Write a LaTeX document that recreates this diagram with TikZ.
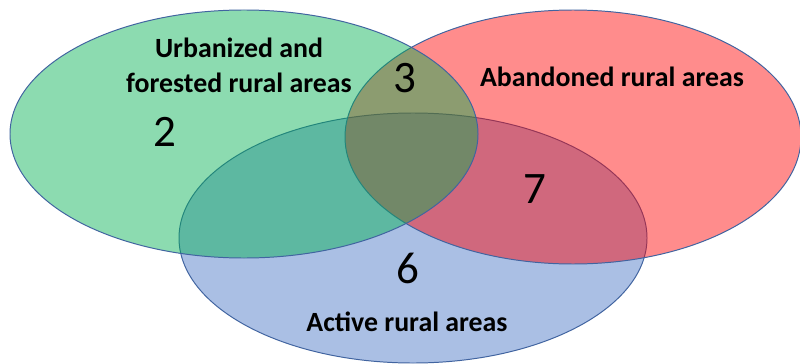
\documentclass[tikz,border=0pt]{standalone}
\usepackage{fontspec}
\setmainfont{Carlito}
\definecolor{vennblue}{RGB}{68, 114, 196}
\definecolor{vennred}{RGB}{255, 0, 0}
\definecolor{venngreen}{RGB}{0, 176, 80}
\definecolor{vennline}{RGB}{65, 100, 160}
\begin{document}
\begin{tikzpicture}[x=0.025cm, y=0.025cm]
            \useasboundingbox (0,0) rectangle (800,363);
            \fill[white] (0,0) rectangle (800,363);
            \filldraw[draw=vennline, line width=0.7pt, fill=vennblue, fill opacity=0.45] (413,125) ellipse [x radius=234, y radius=125];
            \filldraw[draw=vennline, line width=0.7pt, fill=vennred, fill opacity=0.45] (573,226) ellipse [x radius=228, y radius=127];
            \filldraw[draw=vennline, line width=0.7pt, fill=venngreen, fill opacity=0.45] (244,229) ellipse [x radius=234, y radius=124];
            \node[font=\fontsize{19.8}{25}\selectfont\bfseries, align=center] (urban) at (239,298) {Urbanized and\\forested rural areas};
            \node[font=\fontsize{19.8}{25}\selectfont\bfseries] (aband) at (612,286) {Abandoned rural areas};
            \node[font=\fontsize{19.8}{25}\selectfont\bfseries] (active) at (407,41) {Active rural areas};
            \node[font=\fontsize{32}{38}\selectfont] (two) at (165,231) {2};
            \node[font=\fontsize{32}{38}\selectfont] (three) at (405,285) {3};
            \node[font=\fontsize{32}{38}\selectfont] (seven) at (535,174) {7};
            \node[font=\fontsize{32}{38}\selectfont] (six) at (408,95) {6};
        \end{tikzpicture}
\end{document}
